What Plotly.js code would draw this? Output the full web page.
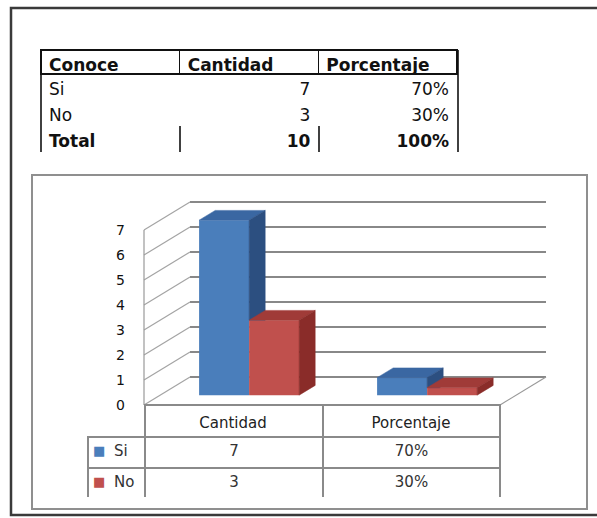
<!DOCTYPE html>
<html><head><meta charset="utf-8">
<script src="https://cdn.plot.ly/plotly-3.0.1.min.js"></script>
<style>html,body{margin:0;padding:0;background:#fff}#chart{width:597px;height:518px}</style>
</head><body><div id="chart"></div>
<script>
// ---------------- data ----------------
const categories = ['Cantidad', 'Porcentaje'];
const seriesNames = ['Si', 'No'];
const siValues = [7, 0.7];
const noValues = [3, 0.3];
const siLabels = ['7', '70%'];
const noLabels = ['3', '30%'];
const yTickValues = [0, 1, 2, 3, 4, 5, 6, 7];

const tableHeaders = ['Conoce', 'Cantidad', 'Porcentaje'];
const tableConoce = ['Si', 'No', 'Total'];
const tableCantidad = ['7', '3', '10'];
const tablePorcentaje = ['70%', '30%', '100%'];

// ---------------- geometry / style ----------------
const W = 597, H = 518;
const px = p => p / W;
const py = q => 1 - q / H;

const PLOT_L = 126, PLOT_R = 560, PLOT_T = 195, PLOT_B = 412;
const X0PX = 144, XUNIT = 178, Y0PX = 405, YUNIT = 25;
const xRange = [-0.5 + (PLOT_L - X0PX) / XUNIT, -0.5 + (PLOT_R - X0PX) / XUNIT];
const yRange = [(Y0PX - PLOT_B) / YUNIT, (Y0PX - PLOT_T) / YUNIT];
const DEPTH_X = 46 / XUNIT, DEPTH_Y = 28 / YUNIT;
const BAR_FRONT = 0.35, BAR_BACK = 0.70;
const BAR_W = 50 / XUNIT;
const nCat = categories.length;
const xMin = -0.5, xMax = nCat - 0.5;
const yTop = Math.max(...yTickValues);

const siColors = {front: '#4A7EBB', top: '#3A67A2', side: '#2C4F80'};
const noColors = {front: '#C0504D', top: '#A03B38', side: '#8A2C29'};
const FONT = 'DejaVu Sans';
const GRID = '#8a8a8a';
const CLEAR = 'rgba(0,0,0,0)';

const traces = [];

// ---- walls and gridlines (subplot xy, behind the bars) ----
const backX = [], backY = [], sideX = [], sideY = [];
yTickValues.forEach(v => {
  backX.push(xMin + DEPTH_X, xMax + DEPTH_X, null);
  backY.push(v + DEPTH_Y, v + DEPTH_Y, null);
  sideX.push(xMin, xMin + DEPTH_X, null);
  sideY.push(v, v + DEPTH_Y, null);
});
traces.push({type: 'scatter', mode: 'lines', x: backX, y: backY, xaxis: 'x', yaxis: 'y',
  line: {color: '#888888', width: 1.8}, hoverinfo: 'skip', showlegend: false});
traces.push({type: 'scatter', mode: 'lines', x: sideX, y: sideY, xaxis: 'x', yaxis: 'y',
  line: {color: '#a4a4a4', width: 1.2}, hoverinfo: 'skip', showlegend: false});
traces.push({type: 'scatter', mode: 'lines',
  x: [xMin, xMin, null, xMax, xMax + DEPTH_X],
  y: [yTop, 0, null, 0, DEPTH_Y], xaxis: 'x', yaxis: 'y',
  line: {color: '#999999', width: 1.2}, hoverinfo: 'skip', showlegend: false});

// ---- bars (subplot x2y2, drawn in front) ----
const base = BAR_FRONT * DEPTH_Y;
const shiftX = BAR_FRONT * DEPTH_X;
const dX = (BAR_BACK - BAR_FRONT) * DEPTH_X;
const dY = (BAR_BACK - BAR_FRONT) * DEPTH_Y;
const catIdx = categories.map((c, i) => i + shiftX);

traces.push({type: 'bar', name: seriesNames[0], x: catIdx, y: siValues, base: base,
  width: BAR_W, offset: -BAR_W, xaxis: 'x2', yaxis: 'y2', showlegend: false,
  marker: {color: siColors.front, line: {width: 0}}, hoverinfo: 'skip'});
traces.push({type: 'bar', name: seriesNames[1], x: catIdx, y: noValues, base: base,
  width: BAR_W, offset: 0, xaxis: 'x2', yaxis: 'y2', showlegend: false,
  marker: {color: noColors.front, line: {width: 0}}, hoverinfo: 'skip'});

function clipAbove(poly, yMin) {
  const out = [];
  for (let i = 0; i < poly.length; i++) {
    const a = poly[i], b = poly[(i + 1) % poly.length];
    const ain = a[1] >= yMin, bin = b[1] >= yMin;
    if (ain) out.push(a);
    if (ain !== bin) {
      const t = (yMin - a[1]) / (b[1] - a[1]);
      out.push([a[0] + t * (b[0] - a[0]), yMin]);
    }
  }
  return out;
}
function face(poly, color) {
  const xs = poly.map(p => p[0]); xs.push(poly[0][0]);
  const ys = poly.map(p => p[1]); ys.push(poly[0][1]);
  traces.push({type: 'scatter', mode: 'lines', x: xs, y: ys, fill: 'toself', fillcolor: color,
    line: {color: color, width: 0.5}, xaxis: 'x2', yaxis: 'y2', hoverinfo: 'skip', showlegend: false});
}
categories.forEach((c, i) => {
  const cx = catIdx[i];
  const sl = cx - BAR_W, sr = cx, st = base + siValues[i];
  face([[sl, st], [sr, st], [sr + dX, st + dY], [sl + dX, st + dY]], siColors.top);
  const siSide = [[sr, base], [sr, st], [sr + dX, st + dY], [sr + dX, base + dY]];
  face(clipAbove(siSide, base + noValues[i]), siColors.side);
  const nl = cx, nr = cx + BAR_W, nt = base + noValues[i];
  face([[nl, nt], [nr, nt], [nr + dX, nt + dY], [nl + dX, nt + dY]], noColors.top);
  face([[nr, base], [nr, nt], [nr + dX, nt + dY], [nr + dX, base + dY]], noColors.side);
});

// ---- chart data table (grid + values) ----
traces.push({
  type: 'table', domain: {x: [px(88), px(500)], y: [py(498), py(405)]},
  columnwidth: [57, 178, 177],
  header: {values: ['', '', ''], height: 32,
    line: {color: [CLEAR, GRID, GRID], width: 1.5}, fill: {color: CLEAR}},
  cells: {values: [seriesNames.map(() => ''),
                   [siLabels[0], noLabels[0]], [siLabels[1], noLabels[1]]],
    align: ['left', 'center', 'center'], height: 31,
    line: {color: GRID, width: 1.5}, fill: {color: CLEAR},
    font: {family: FONT, size: 15, color: '#333'}}
});
// legend keys (swatch + series name) inside the first column
traces.push({
  type: 'table', domain: {x: [px(85), px(146)], y: [py(498), py(405)]},
  columnwidth: [21, 40],
  header: {values: ['', ''], height: 32, line: {color: CLEAR, width: 0}, fill: {color: CLEAR}},
  cells: {values: [seriesNames.map(() => '■'), seriesNames], align: 'left', height: 31,
    line: {color: CLEAR, width: 0}, fill: {color: CLEAR},
    font: {family: FONT, size: [13, 15], color: [[siColors.front, noColors.front], ['#333', '#333']]}}
});

// ---- top table ----
const lastBold = arr => arr.map((s, i) => i === arr.length - 1 ? 'bold' : 'normal');
traces.push({
  type: 'table', domain: {x: [px(41), px(458)], y: [py(152), py(50)]},
  columnwidth: [139, 139, 139],
  header: {values: tableHeaders, align: 'left', height: 24,
    line: {color: '#111', width: 1.6}, fill: {color: CLEAR},
    font: {family: FONT, size: 17, color: '#111', weight: 'bold'}},
  cells: {values: [tableConoce, tableCantidad, tablePorcentaje],
    align: ['left', 'right', 'right'], height: 26,
    line: {color: CLEAR, width: 0}, fill: {color: CLEAR},
    font: {family: FONT, size: 17, color: '#111',
      weight: [lastBold(tableConoce), lastBold(tableCantidad), lastBold(tablePorcentaje)]}}
});

const lineShape = (x0, y0, x1, y1, color, w) => ({type: 'line', xref: 'paper', yref: 'paper',
  x0: px(x0), y0: py(y0), x1: px(x1), y1: py(y1), line: {color: color, width: w}});

const layout = {
  width: W, height: H, margin: {l: 0, r: 0, t: 0, b: 0},
  paper_bgcolor: '#ffffff', plot_bgcolor: CLEAR, showlegend: false,
  barmode: 'overlay',
  xaxis: {domain: [px(PLOT_L), px(PLOT_R)], range: xRange, tickvals: categories.map((c, i) => i),
    ticktext: categories, showgrid: false, zeroline: false, showline: false, ticks: '',
    tickfont: {family: FONT, size: 15, color: '#222'}, fixedrange: true},
  yaxis: {domain: [py(PLOT_B), py(PLOT_T)], range: yRange, tickvals: yTickValues,
    showgrid: false, zeroline: false, showline: false, ticks: '',
    tickfont: {family: FONT, size: 14, color: '#111'}, fixedrange: true},
  xaxis2: {domain: [px(PLOT_L), px(PLOT_R)], range: xRange, visible: false, anchor: 'y2'},
  yaxis2: {domain: [py(PLOT_B), py(PLOT_T)], range: yRange, visible: false, anchor: 'x2'},
  shapes: [
    {type: 'rect', xref: 'paper', yref: 'paper', x0: px(11), y0: py(8), x1: px(603), y1: py(515),
      line: {color: '#3a3a3a', width: 2.5}},
    {type: 'rect', xref: 'paper', yref: 'paper', x0: px(32), y0: py(175), x1: px(587), y1: py(509),
      line: {color: '#8f8f8f', width: 2}},
    lineShape(41, 50, 41, 152, '#111', 1.6),
    lineShape(458, 50, 458, 152, '#111', 1.6),
    lineShape(180, 126, 180, 152, '#111', 1.6),
    lineShape(319, 126, 319, 152, '#111', 1.6)
  ]
};

Plotly.newPlot('chart', traces, layout, {staticPlot: true, displayModeBar: false});
</script>
</body></html>
